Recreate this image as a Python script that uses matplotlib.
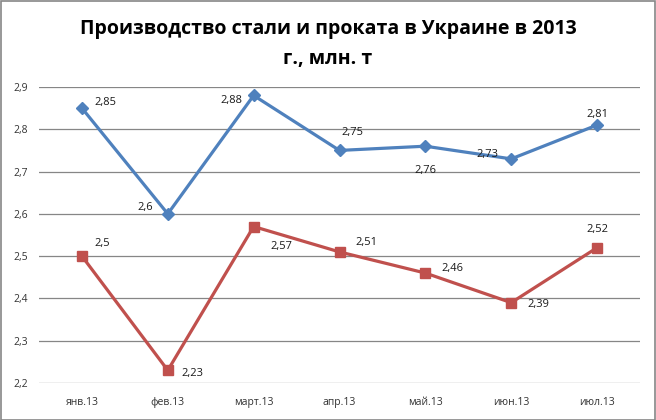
import matplotlib
matplotlib.use("Agg")
import matplotlib.pyplot as plt
from matplotlib.patches import Rectangle

months = ["янв.13", "фев.13", "март.13", "апр.13", "май.13", "июн.13", "июл.13"]
steel = [2.85, 2.60, 2.88, 2.75, 2.76, 2.73, 2.81]
rolled = [2.50, 2.23, 2.57, 2.51, 2.46, 2.39, 2.52]
steel_labels = ["2,85", "2,6", "2,88", "2,75", "2,76", "2,73", "2,81"]
rolled_labels = ["2,5", "2,23", "2,57", "2,51", "2,46", "2,39", "2,52"]
yticks = [2.2, 2.3, 2.4, 2.5, 2.6, 2.7, 2.8, 2.9]
ytick_labels = ["2,2", "2,3", "2,4", "2,5", "2,6", "2,7", "2,8", "2,9"]
title = "Производство стали и проката в Украине в 2013\nг., млн. т"

steel_off = [(24, 6), (-23, 6), (-22, -5), (13, 18), (0, -24), (-24, 4), (0, 11)]
rolled_off = [(20, 13), (25, -3), (28, -20), (27, 9), (27, 5), (27, -2), (0, 18)]

plt.rcParams['font.family'] = ['Open Sans', 'DejaVu Sans']

fig = plt.figure(figsize=(6.56, 4.2), dpi=100)
ax = fig.add_axes([39/656, 1-383/420, (640-39)/656, (383-87)/420])
x = list(range(len(months)))

ax.plot(x, steel, color="#4F81BD", lw=2.3, marker="D", ms=6, zorder=3)
ax.plot(x, rolled, color="#C0504D", lw=2.3, marker="s", ms=7, zorder=3)

for xi, v, lab, off in zip(x, steel, steel_labels, steel_off):
    ax.annotate(lab, (xi, v), xytext=off, textcoords="offset pixels",
                ha="center", va="center", fontsize=8, color="#1a1a1a")
for xi, v, lab, off in zip(x, rolled, rolled_labels, rolled_off):
    ax.annotate(lab, (xi, v), xytext=off, textcoords="offset pixels",
                ha="center", va="center", fontsize=8, color="#1a1a1a")

ax.set_xlim(-0.5, len(months) - 0.5)
ax.set_ylim(2.2, 2.9)
ax.set_yticks(yticks)
ax.set_yticklabels(ytick_labels)
ax.set_xticks(x)
ax.set_xticklabels(months)
ax.tick_params(axis="both", length=0, labelsize=7.5, colors="#333333")
ax.tick_params(axis="y", pad=8)
ax.tick_params(axis="x", pad=10)
ax.grid(axis="y", color="#868686", lw=0.9)
ax.set_axisbelow(True)
for s in ax.spines.values():
    s.set_visible(False)

fig.text(0.5, 1 - 44/420, title, ha="center", va="center", fontsize=14,
         fontweight="bold", linespacing=1.7, color="black")

fig.patches.append(Rectangle((0.5/656, 0.5/420), 1 - 1.5/656, 1 - 1.5/420,
                             transform=fig.transFigure, fill=False,
                             edgecolor="#868686", lw=1.2))

fig.savefig("out.png", dpi=100)
